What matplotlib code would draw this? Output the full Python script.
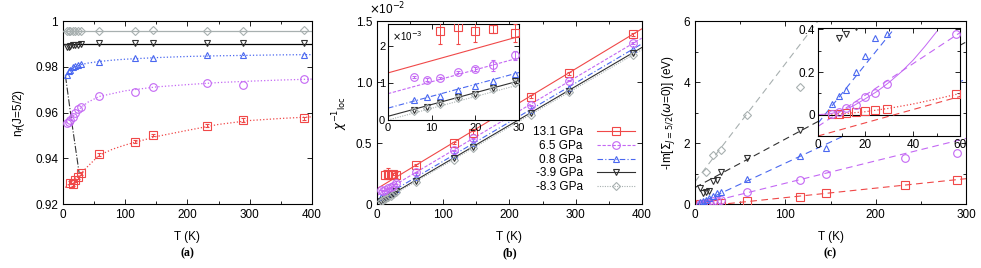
import numpy as np
import matplotlib
matplotlib.use('Agg')
import matplotlib.pyplot as plt
from matplotlib.lines import Line2D
from matplotlib.ticker import MultipleLocator, FixedLocator, FixedFormatter

plt.rcParams['font.family'] = ['Liberation Sans', 'DejaVu Sans']
plt.rcParams['font.size'] = 8.5
plt.rcParams['mathtext.fontset'] = 'dejavusans'

nan = np.nan

# ---- data ----
T = [6, 9, 12, 16, 20, 24, 29, 58, 116, 145, 232, 290, 387]
labels = ['13.1 GPa', '6.5 GPa', '0.8 GPa', '-3.9 GPa', '-8.3 GPa']
colors = ['#f04848', '#c468f4', '#4a68f0', '#303030', '#a8b0b0']

# (a) n_f(J=5/2)
nf_red = [nan, nan, 0.9293, 0.9287, 0.9304, 0.9316, 0.9334, 0.9417, 0.9472, 0.9502, 0.9542, 0.9567, 0.9575]
nf_red_err = [0, 0, 0.0007, 0.0007, 0.0006, 0.0006, 0.0006, 0.0008, 0.0007, 0.0006, 0.0007, 0.0007, 0.0006]
nf_violet = [0.9553, 0.9560, 0.9568, 0.9582, 0.9599, 0.9614, 0.9623, 0.9672, 0.9688, 0.9710, 0.9728, 0.9720, 0.9747]
nf_blue = [0.9764, 0.9783, 0.9785, 0.9800, 0.9805, 0.9809, 0.9812, 0.9822, 0.9840, 0.9840, 0.9851, 0.9853, 0.9853]
nf_black = [0.9888, 0.9888, 0.9890, 0.9893, 0.9895, 0.9897, 0.9898, 0.9902, 0.9904, 0.9902, 0.9903, 0.9905, 0.9902]
nf_gray = [0.9957, 0.9957, 0.9958, 0.9958, 0.9958, 0.9958, 0.9958, 0.9958, 0.9958, 0.9961, 0.9958, 0.9958, 0.9959]

fitA_T = [0, 10, 20, 30, 40, 58, 80, 100, 150, 200, 250, 300, 350, 400]
fitA_red = [0.9262, 0.9288, 0.9313, 0.9337, 0.9365, 0.9413, 0.9440, 0.9458, 0.9495, 0.9522, 0.9548, 0.9565, 0.9574, 0.9581]
fitA_violet = [0.9550, 0.9565, 0.9595, 0.9625, 0.9645, 0.9670, 0.9683, 0.9695, 0.9712, 0.9722, 0.9731, 0.9737, 0.9742, 0.9746]
fitA_blue = [0.9750, 0.9783, 0.9800, 0.9810, 0.9816, 0.9823, 0.9829, 0.9833, 0.9840, 0.9845, 0.9848, 0.9850, 0.9852, 0.9853]
flatA_T = [0, 400]
flatA_black = [0.9900, 0.9900]
flatA_gray = [0.9958, 0.9958]
tstar_T = [4, 14, 26]
tstar_nf = [0.9760, 0.9560, 0.9335]

# (b) inverse local susceptibility, in units of 1e-3
chi_red = [nan, nan, 2.40, 2.50, 2.40, 2.45, 2.35, 3.2, 5.0, 5.85, 8.8, 10.7, 13.9]
chi_red_err = [0, 0, 0.35, 0.45, 0.3, 0.1, 0.25, 0.1, 0.1, 0.1, 0.1, 0.1, 0.1]
chi_violet = [1.15, 1.09, 1.14, 1.29, 1.38, 1.47, 1.74, 2.6, 4.4, 5.4, 8.1, 10.1, 13.2]
chi_violet_err = [0.03, 0.03, 0.03, 0.03, 0.05, 0.15, 0.12, 0.05, 0.05, 0.05, 0.05, 0.05, 0.05]
chi_blue = [0.545, 0.61, 0.66, 0.82, 0.93, 1.04, 1.25, 2.2, 4.0, 5.0, 7.7, 9.5, 12.7]
chi_black = [0.27, 0.36, 0.45, 0.61, 0.70, 0.86, 1.04, 1.9, 3.8, 4.7, 7.5, 9.3, 12.4]
chi_gray = [0.24, 0.33, 0.42, 0.58, 0.67, 0.83, 1.00, 1.8, 3.6, 4.6, 7.3, 9.2, 12.2]

lineB_T = [0, 400]
lineB_red = [1.27, 14.35]
lineB_violet = [0.71, 13.59]
lineB_blue = [0.32, 13.12]
lineB_black = [0.10, 12.82]
lineB_gray = [0.00, 12.64]

# (c) -Im Sigma(omega=0) in eV
T_c = [6, 9, 12, 16, 20, 24, 29, 58, 116, 145, 232, 290]
sig_red = [0.003, 0.005, 0.008, 0.012, 0.015, 0.020, 0.027, 0.095, 0.22, 0.35, 0.62, 0.79]
sig_violet = [0.005, 0.014, 0.030, 0.047, 0.083, 0.100, 0.144, 0.38, 0.79, 1.00, 1.50, 1.66]
sig_blue = [0.050, 0.086, 0.117, 0.200, 0.273, 0.360, 0.378, 0.82, 1.58, 1.83, nan, nan]
sig_black = [0.52, 0.36, 0.38, 0.41, 0.75, 0.80, 1.06, 1.50, 2.42, nan, nan, nan]
sig_gray = [nan, nan, 1.06, nan, 1.60, nan, 1.78, 2.92, 3.83, nan, nan, nan]

lineC_T = [0, 300]
lineC_red = [-0.100, 0.83]
lineC_violet = [-0.055, 2.15]
lineC_blue = [-0.040, 4.10]
lineC_black = [0.54, 5.31]
lineC_gray = [0.73, 12.34]

curveC_T = [0, 10, 20, 30, 40, 50, 60]
curveC_red = [0.0, 0.004, 0.014, 0.030, 0.050, 0.074, 0.100]
curveC_vT = [0, 5, 10, 15, 20, 25, 30, 35, 40, 45, 50]
curveC_violet = [0.0, 0.004, 0.018, 0.042, 0.075, 0.110, 0.152, 0.200, 0.255, 0.320, 0.390]

markers = ['s', 'o', '^', 'v', 'D']
msizes = [5.5, 5.5, 5, 5, 4]


def style(ax, lab=8.5):
    ax.tick_params(which='both', direction='in', top=True, right=True, labelsize=lab, width=0.6)
    ax.tick_params(which='major', length=3.5)
    ax.tick_params(which='minor', length=2)
    for s in ax.spines.values():
        s.set_linewidth(0.8)


def pts(ax, x, y, i, yerr=None):
    x = np.array(x, float)
    y = np.array(y, float)
    ok = ~np.isnan(y)
    if yerr is not None:
        ax.errorbar(x[ok], y[ok], yerr=np.array(yerr, float)[ok], fmt=markers[i], ms=msizes[i],
                    mfc='none', mec=colors[i], ecolor=colors[i], mew=0.8, elinewidth=0.7, capsize=1.5, zorder=3)
    else:
        ax.plot(x[ok], y[ok], markers[i], ms=msizes[i], mfc='none', mec=colors[i], mew=0.8, zorder=3)


fig = plt.figure(figsize=(9.81, 2.68), dpi=100)

# ---------------- (a) ----------------
axa = fig.add_axes([0.0642, 0.2388, 0.2538, 0.6828])
axa.plot(fitA_T, fitA_red, ':', color=colors[0], lw=0.9)
axa.plot(fitA_T, fitA_violet, ':', color=colors[1], lw=0.9)
axa.plot(fitA_T, fitA_blue, ':', color=colors[2], lw=0.9)
axa.plot(flatA_T, flatA_black, '-', color='black', lw=0.9)
axa.plot(flatA_T, flatA_gray, '-', color=colors[4], lw=0.9)
axa.plot(tstar_T, tstar_nf, '-.', color='#333333', lw=0.8)
pts(axa, T, nf_red, 0, nf_red_err)
pts(axa, T, nf_violet, 1)
pts(axa, T, nf_blue, 2)
pts(axa, T, nf_black, 3)
pts(axa, T, nf_gray, 4)
axa.set_xlim(0, 400)
axa.set_ylim(0.92, 1.0)
axa.xaxis.set_major_locator(MultipleLocator(100))
axa.xaxis.set_minor_locator(MultipleLocator(50))
axa.yaxis.set_major_locator(FixedLocator([0.92, 0.94, 0.96, 0.98, 1.0]))
axa.yaxis.set_major_formatter(FixedFormatter(['0.92', '0.94', '0.96', '0.98', '1']))
style(axa)
axa.set_xlabel('T (K)', labelpad=7)
axa.set_ylabel(r'n$_f$(J=5/2)', labelpad=6)

# ---------------- (b) ----------------
axb = fig.add_axes([0.3846, 0.2388, 0.2695, 0.6828])
lstyles = ['-', (0, (3, 1.5)), (0, (5, 2, 1, 2)), '-', (0, (1, 1.2))]
linesB = [lineB_red, lineB_violet, lineB_blue, lineB_black, lineB_gray]
chis = [chi_red, chi_violet, chi_blue, chi_black, chi_gray]
errs = [chi_red_err, chi_violet_err, None, None, None]
for i in range(5):
    axb.plot(lineB_T, np.array(linesB[i]) / 10, linestyle=lstyles[i], color=colors[i], lw=0.8)
    e = None if errs[i] is None else np.array(errs[i]) / 10
    pts(axb, T, np.array(chis[i]) / 10, i, e)
axb.set_xlim(0, 400)
axb.set_ylim(0, 1.5)
axb.xaxis.set_major_locator(MultipleLocator(100))
axb.xaxis.set_minor_locator(MultipleLocator(50))
axb.yaxis.set_major_locator(FixedLocator([0, 0.5, 1.0, 1.5]))
axb.yaxis.set_major_formatter(FixedFormatter(['0', '0.5', '1.0', '1.5']))
style(axb)
axb.set_xlabel('T (K)', labelpad=7)
axb.set_ylabel(r'$\chi^{-1}{}_{\rm loc}$', labelpad=4)
axb.text(-0.03, 1.02, r'$\times$10$^{-2}$', transform=axb.transAxes, fontsize=8.5, va='bottom')

handles = [Line2D([], [], color=colors[i], linestyle=lstyles[i], lw=0.8, marker=markers[i],
                  ms=msizes[i], mfc='none', mec=colors[i], mew=0.8) for i in range(5)]
axb.legend(handles, labels, loc='lower right', bbox_to_anchor=(1.0, 0.02), frameon=False,
           markerfirst=False, handlelength=3.2, handletextpad=1.2, labelspacing=0.15,
           fontsize=8.5, borderaxespad=0.2)

# inset (b)
axbi = fig.add_axes([0.3955, 0.5522, 0.1335, 0.3571])
for i in range(5):
    axbi.plot(lineB_T, linesB[i], linestyle=lstyles[i], color=colors[i], lw=0.8)
    pts(axbi, T, chis[i], i, errs[i])
axbi.set_xlim(0, 30)
axbi.set_ylim(0, 2.58)
axbi.xaxis.set_major_locator(MultipleLocator(10))
axbi.yaxis.set_major_locator(MultipleLocator(1))
style(axbi, 8)
axbi.tick_params(axis='both', pad=2)
axbi.text(0.03, 0.95, r'$\times$10$^{-3}$', transform=axbi.transAxes, fontsize=7, va='top')

# ---------------- (c) ----------------
axc = fig.add_axes([0.7085, 0.2388, 0.2762, 0.6828])
linesC = [lineC_red, lineC_violet, lineC_blue, lineC_black, lineC_gray]
sigs = [sig_red, sig_violet, sig_blue, sig_black, sig_gray]
for i in range(5):
    axc.plot(lineC_T, linesC[i], linestyle=(0, (6, 4)), color=colors[i], lw=0.8)
    pts(axc, T_c, sigs[i], i)
axc.set_xlim(0, 300)
axc.set_ylim(0, 6)
axc.xaxis.set_major_locator(MultipleLocator(100))
axc.xaxis.set_minor_locator(MultipleLocator(50))
axc.yaxis.set_major_locator(MultipleLocator(2))
axc.yaxis.set_minor_locator(MultipleLocator(1))
style(axc)
axc.set_xlabel('T (K)', labelpad=7)
axc.set_ylabel(r'-Im[$\Sigma_{J=5/2}$($\omega$=0)] (eV)', labelpad=5)

# inset (c)
axci = fig.add_axes([0.8338, 0.4925, 0.1453, 0.4019])
axci.axhline(0, color='black', lw=0.8)
for i in range(3):
    axci.plot(lineC_T, linesC[i], linestyle=(0, (6, 4)), color=colors[i], lw=0.8)
axci.plot(curveC_T, curveC_red, ':', color=colors[0], lw=0.9)
axci.plot(curveC_vT, curveC_violet, '-', color=colors[1], lw=0.7)
for i in range(5):
    pts(axci, T_c, sigs[i], i)
axci.set_xlim(0, 60)
axci.set_ylim(-0.1, 0.405)
axci.xaxis.set_major_locator(MultipleLocator(20))
axci.xaxis.set_minor_locator(MultipleLocator(10))
axci.yaxis.set_major_locator(FixedLocator([0, 0.2, 0.4]))
axci.yaxis.set_major_formatter(FixedFormatter(['0', '0.2', '0.4']))
axci.yaxis.set_minor_locator(MultipleLocator(0.1))
style(axci, 8.5)
axci.tick_params(axis='both', pad=2)

# panel labels
for ax, lab in [(axa, '(a)'), (axb, '(b)'), (axc, '(c)')]:
    ax.text(0.5, -0.27, lab, transform=ax.transAxes, ha='center', va='center',
            fontsize=8.5, fontweight='bold', family=['Liberation Serif', 'DejaVu Serif'])

fig.savefig('out.png', dpi=100)
